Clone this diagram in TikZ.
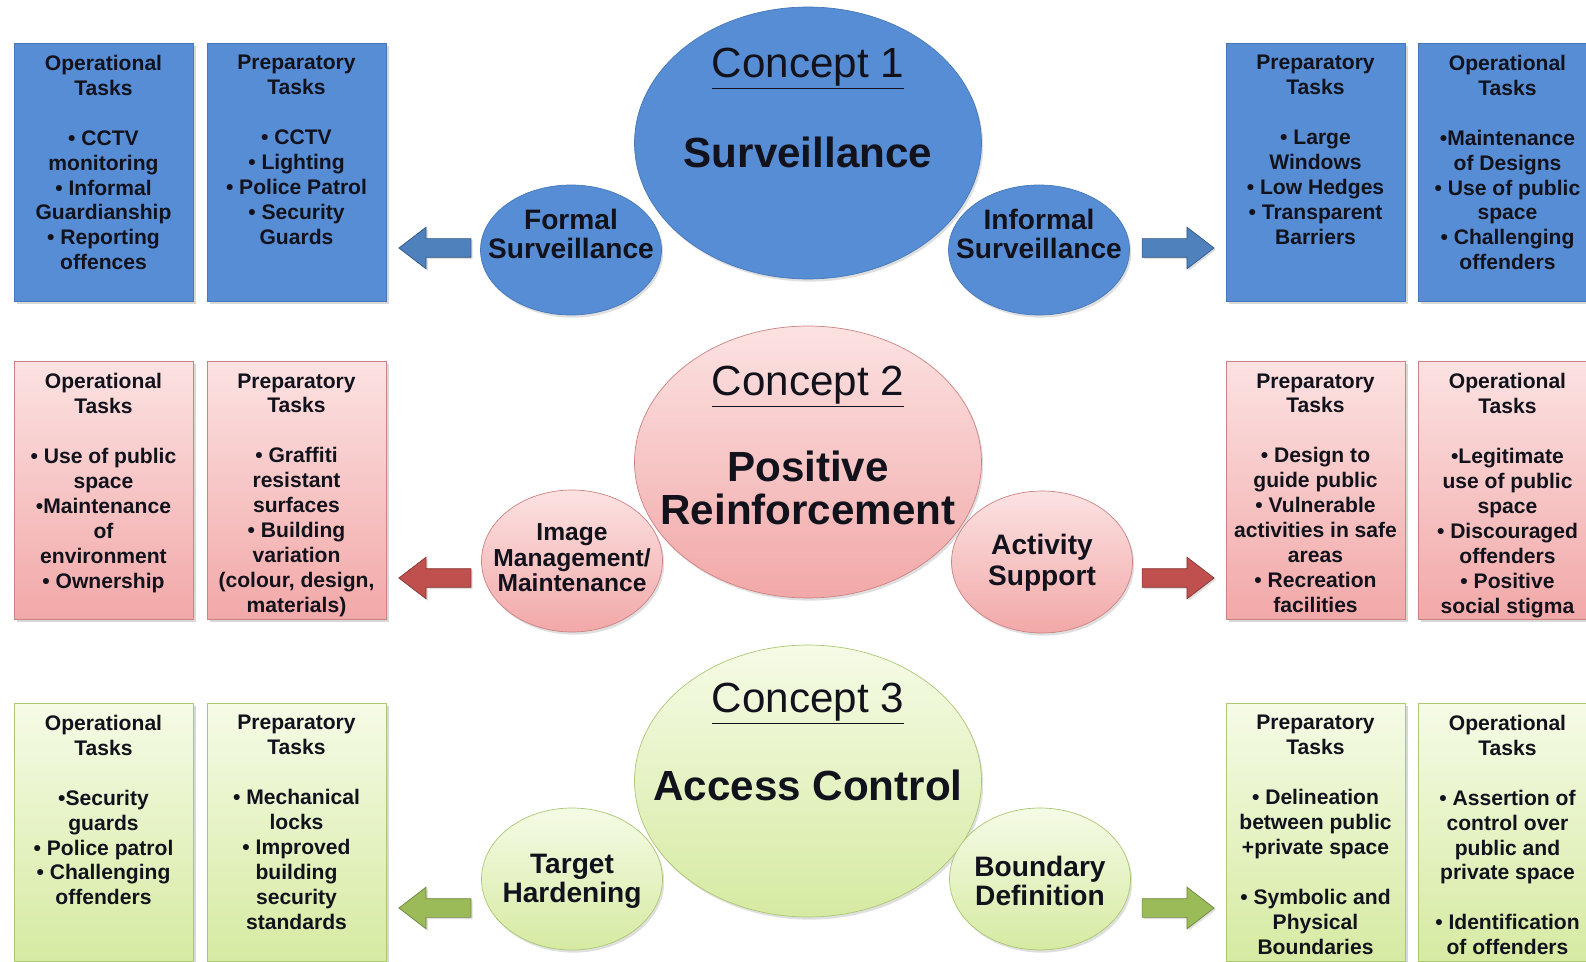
\documentclass[tikz,border=0pt]{standalone}
\usepackage{fontspec}
\setmainfont{Liberation Sans}
\usetikzlibrary{shapes,shapes.arrows,positioning,calc,shadows}

\definecolor{blueF}{RGB}{86,141,212}
\definecolor{blueD}{RGB}{70,120,185}
\definecolor{blueA}{RGB}{79,129,189}
\definecolor{blueAD}{RGB}{52,88,135}
\definecolor{pinkT}{RGB}{252,226,226}
\definecolor{pinkB}{RGB}{242,168,168}
\definecolor{pinkD}{RGB}{205,130,130}
\definecolor{redA}{RGB}{192,80,77}
\definecolor{redAD}{RGB}{135,52,50}
\definecolor{greenT}{RGB}{245,251,230}
\definecolor{greenB}{RGB}{214,234,162}
\definecolor{greenD}{RGB}{170,200,115}
\definecolor{greenA}{RGB}{155,187,89}
\definecolor{greenAD}{RGB}{110,135,60}
\definecolor{ink}{RGB}{18,18,28}

\tikzset{
  taskbox/.style={rectangle, inner sep=0pt, minimum width=3.58cm, minimum height=5.16cm,
    font=\bfseries\fontsize{12}{14.2}\selectfont, text=ink,
    drop shadow={shadow xshift=1.5pt, shadow yshift=-1.5pt, opacity=0.3},
    execute at begin node={\begin{minipage}[c][5.16cm][t]{3.58cm}\centering\vspace*{0.24cm}},
    execute at end node={\end{minipage}}},
  bluebox/.style={taskbox, fill=blueF, draw=blueD},
  pinkbox/.style={taskbox, top color=pinkT, bottom color=pinkB, draw=pinkD},
  greenbox/.style={taskbox, top color=greenT, bottom color=greenB, draw=greenD},
  bigcirc/.style={ellipse, inner sep=0pt, minimum width=6.94cm, minimum height=5.44cm,
    drop shadow={shadow xshift=1pt, shadow yshift=-1.5pt, opacity=0.25}},
  smallcirc/.style={ellipse, inner sep=0pt, minimum width=3.62cm, minimum height=2.84cm,
    drop shadow={shadow xshift=1pt, shadow yshift=-1.5pt, opacity=0.25}},
  bluec/.style={fill=blueF, draw=blueD},
  pinkc/.style={top color=pinkT, bottom color=pinkB, draw=pinkD},
  greenc/.style={top color=greenT, bottom color=greenB, draw=greenD},
  ctitle/.style={font=\fontsize{24}{24}\selectfont, text=ink},
  cmain/.style={font=\bfseries\fontsize{24}{24}\selectfont, align=center, text=ink},
  ctext/.style={font=\bfseries\fontsize{16}{16.5}\selectfont, align=center, text=ink},
  blockarrow/.style={single arrow, inner xsep=0pt, inner ysep=0.18cm, minimum height=1.44cm,
    single arrow head extend=0.23cm, single arrow tip angle=75,
    drop shadow={shadow xshift=1pt, shadow yshift=-1pt, opacity=0.25}},
  leftarrow/.style={blockarrow, shape border rotate=180}
}

\begin{document}
\begin{tikzpicture}[x=0.02cm, y=-0.02cm]
  \clip (0,0) rectangle (1586,962);
  \fill[white] (0,0) rectangle (1586,962);

  % Concept 1
  \node[bigcirc, bluec] (sv) at (808,143) {};
  \node[ctitle] (svt) at (808,69) {\underline{Concept 1}};
  \node[cmain] (svm) at (808,152) {Surveillance};
  \node[smallcirc, bluec, minimum height=2.6cm] (fs) at (571,250) {};
  \node[ctext] (fst) at (571,234) {Formal\\Surveillance};
  \node[smallcirc, bluec, minimum height=2.6cm] (is) at (1039,250) {};
  \node[ctext] (ist) at (1039,234) {Informal\\Surveillance};

  \node[bluebox] (opL1) at (103.5,172) {Operational\\Tasks\\[14.2pt]• CCTV\\monitoring\\• Informal\\Guardianship\\• Reporting\\offences};
  \node[bluebox] (prL1) at (296.5,172) {Preparatory\\Tasks\\[14.2pt]• CCTV\\• Lighting\\• Police Patrol\\• Security\\Guards};
  \node[bluebox] (prR1) at (1315.5,172) {Preparatory\\Tasks\\[14.2pt]• Large\\Windows\\• Low Hedges\\• Transparent\\Barriers};
  \node[bluebox] (opR1) at (1507.5,172) {Operational\\Tasks\\[14.2pt]•Maintenance\\of Designs\\• Use of public\\space\\• Challenging\\offenders};

  \node[leftarrow, fill=blueA, draw=blueAD] (aL1) at (441,248) {};
  \node[blockarrow, fill=blueA, draw=blueAD] (aR1) at (1172,248) {};

  % Concept 2
  \node[bigcirc, pinkc] (pr) at (808,462) {};
  \node[ctitle] (prt) at (808,387) {\underline{Concept 2}};
  \node[cmain] (prm) at (808,488) {Positive\\Reinforcement};
  \node[smallcirc, pinkc] (im) at (572,561) {};
  \node[ctext, font=\bfseries\fontsize{14}{14.6}\selectfont] (imt) at (572,558) {Image\\Management/\\Maintenance};
  \node[smallcirc, pinkc] (as) at (1042,562) {};
  \node[ctext, font=\bfseries\fontsize{16}{17.5}\selectfont] (ast) at (1042,563) {Activity\\Support};

  \node[pinkbox] (opL2) at (103.5,490.5) {Operational\\Tasks\\[14.2pt]• Use of public\\space\\•Maintenance\\of\\environment\\• Ownership};
  \node[pinkbox] (prL2) at (296.5,490.5) {Preparatory\\Tasks\\[14.2pt]• Graffiti\\resistant\\surfaces\\• Building\\variation\\(colour, design,\\materials)};
  \node[pinkbox] (prR2) at (1315.5,490.5) {Preparatory\\Tasks\\[14.2pt]• Design to\\guide public\\• Vulnerable\\activities in safe\\areas\\• Recreation\\facilities};
  \node[pinkbox] (opR2) at (1507.5,490.5) {Operational\\Tasks\\[14.2pt]•Legitimate\\use of public\\space\\• Discouraged\\offenders\\• Positive\\social stigma};

  \node[leftarrow, fill=redA, draw=redAD] (aL2) at (441,578) {};
  \node[blockarrow, fill=redA, draw=redAD] (aR2) at (1172,578) {};

  % Concept 3
  \node[bigcirc, greenc] (ac) at (808,781) {};
  \node[ctitle] (act) at (808,704) {\underline{Concept 3}};
  \node[cmain] (acm) at (808,785) {Access Control};
  \node[smallcirc, greenc] (th) at (572,879) {};
  \node[ctext] (tht) at (572,881) {Target\\Hardening};
  \node[smallcirc, greenc] (bd) at (1040,879) {};
  \node[ctext] (bdt) at (1040,881) {Boundary\\Definition};

  \node[greenbox] (opL3) at (103.5,832) {Operational\\Tasks\\[14.2pt]•Security\\guards\\• Police patrol\\• Challenging\\offenders};
  \node[greenbox] (prL3) at (296.5,832) {Preparatory\\Tasks\\[14.2pt]• Mechanical\\locks\\• Improved\\building\\security\\standards};
  \node[greenbox] (prR3) at (1315.5,832) {Preparatory\\Tasks\\[14.2pt]• Delineation\\between public\\+private space\\[14.2pt]• Symbolic and\\Physical\\Boundaries};
  \node[greenbox] (opR3) at (1507.5,832) {Operational\\Tasks\\[14.2pt]• Assertion of\\control over\\public and\\private space\\[14.2pt]• Identification\\of offenders};

  \node[leftarrow, fill=greenA, draw=greenAD] (aL3) at (441,908) {};
  \node[blockarrow, fill=greenA, draw=greenAD] (aR3) at (1172,908) {};
\end{tikzpicture}
\end{document}
